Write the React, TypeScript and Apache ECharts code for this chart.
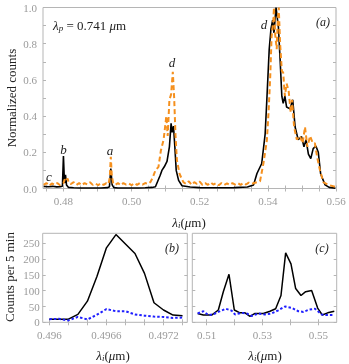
import React, { useEffect, useRef } from "react";
import * as echarts from "echarts";

// ---------- Panel (a): normalized spectra ----------
const lambdaBlack = [
  0.4742, 0.4755, 0.4768, 0.4780, 0.4790, 0.4797, 0.4800, 0.4803, 0.4806, 0.4809, 0.4815, 0.4830, 0.4850,
  0.4870, 0.4890, 0.4910, 0.4930, 0.4935, 0.4939, 0.4943, 0.4948, 0.4960, 0.4980, 0.5000, 0.5020, 0.5040,
  0.5060, 0.5070, 0.5084, 0.5089, 0.5096, 0.5104, 0.5111, 0.5116, 0.5119, 0.5123, 0.5127, 0.5131, 0.5138,
  0.5148, 0.5172, 0.5200, 0.5250, 0.5300, 0.5340, 0.5358, 0.5368, 0.5382, 0.5392, 0.5397, 0.5404, 0.5409,
  0.5414, 0.5418, 0.5424, 0.5431, 0.5436, 0.5441, 0.5445, 0.5450, 0.5455, 0.5465, 0.5473, 0.5480, 0.5489,
  0.5499, 0.5506, 0.5512, 0.5519, 0.5526, 0.5533, 0.5541, 0.5548, 0.5555, 0.5568, 0.5580, 0.5598,
];
const countsBlack = [
  0.012, 0.010, 0.012, 0.009, 0.010, 0.012, 0.180, 0.030, 0.075, 0.020, 0.006, 0.004, 0.003,
  0.003, 0.003, 0.003, 0.005, 0.010, 0.110, 0.020, 0.005, 0.003, 0.003, 0.003, 0.003, 0.004,
  0.006, 0.010, 0.073, 0.100, 0.120, 0.150, 0.230, 0.360, 0.310, 0.345, 0.230, 0.100, 0.045,
  0.015, 0.008, 0.005, 0.004, 0.005, 0.008, 0.020, 0.083, 0.138, 0.300, 0.490, 0.770, 0.880,
  0.930, 0.860, 1.000, 0.890, 0.710, 0.510, 0.470, 0.510, 0.450, 0.440, 0.490, 0.340, 0.270,
  0.286, 0.230, 0.270, 0.190, 0.165, 0.220, 0.235, 0.200, 0.080, 0.020, 0.006, 0.002,
];
const lambdaOrange = [
  0.4742, 0.4750, 0.4758, 0.4766, 0.4774, 0.4782, 0.4790, 0.4796, 0.4800, 0.4804, 0.4808, 0.4812, 0.4816,
  0.4822, 0.4830, 0.4838, 0.4846, 0.4854, 0.4862, 0.4870, 0.4878, 0.4886, 0.4894, 0.4902, 0.4910, 0.4918,
  0.4926, 0.4932, 0.4936, 0.4939, 0.4942, 0.4946, 0.4952, 0.4960, 0.4968, 0.4976, 0.4984, 0.4992, 0.5000,
  0.5008, 0.5016, 0.5024, 0.5032, 0.5040, 0.5048, 0.5055, 0.5062, 0.5070, 0.5079, 0.5086, 0.5094, 0.5102,
  0.5106, 0.5111, 0.5116, 0.5121, 0.5125, 0.5129, 0.5133, 0.5141, 0.5152, 0.5160, 0.5168, 0.5176, 0.5184,
  0.5192, 0.5200, 0.5208, 0.5216, 0.5224, 0.5232, 0.5240, 0.5248, 0.5256, 0.5264, 0.5272, 0.5280, 0.5288,
  0.5296, 0.5304, 0.5312, 0.5320, 0.5328, 0.5336, 0.5344, 0.5352, 0.5360, 0.5368, 0.5377, 0.5387, 0.5397,
  0.5402, 0.5407, 0.5411, 0.5416, 0.5418, 0.5421, 0.5426, 0.5429, 0.5432, 0.5436, 0.5441, 0.5445, 0.5450,
  0.5455, 0.5461, 0.5467, 0.5471, 0.5477, 0.5485, 0.5494, 0.5502, 0.5509, 0.5516, 0.5524, 0.5532, 0.5538,
  0.5545, 0.5553, 0.5563, 0.5577, 0.5597,
];
const countsOrange = [
  0.020, 0.030, 0.015, 0.028, 0.020, 0.030, 0.018, 0.025, 0.030, 0.050, 0.040, 0.055, 0.030,
  0.025, 0.035, 0.020, 0.030, 0.018, 0.030, 0.022, 0.034, 0.020, 0.028, 0.018, 0.030, 0.020,
  0.030, 0.025, 0.060, 0.175, 0.070, 0.030, 0.020, 0.030, 0.018, 0.030, 0.022, 0.028, 0.018,
  0.030, 0.020, 0.030, 0.022, 0.030, 0.025, 0.035, 0.060, 0.100, 0.120, 0.210, 0.270, 0.400,
  0.290, 0.490, 0.520, 0.645, 0.500, 0.290, 0.157, 0.080, 0.035, 0.025, 0.040, 0.020, 0.035,
  0.025, 0.038, 0.020, 0.030, 0.020, 0.034, 0.022, 0.030, 0.018, 0.030, 0.020, 0.028, 0.020,
  0.030, 0.022, 0.030, 0.020, 0.030, 0.022, 0.032, 0.025, 0.030, 0.035, 0.040, 0.139, 0.265,
  0.420, 0.620, 0.840, 0.930, 1.000, 0.860, 0.770, 0.930, 1.000, 0.800, 0.650, 0.640, 0.510,
  0.580, 0.540, 0.420, 0.490, 0.340, 0.270, 0.290, 0.250, 0.340, 0.230, 0.290, 0.250, 0.250,
  0.170, 0.100, 0.035, 0.020, 0.010,
];
const xLabelsA = [0.48, 0.5, 0.52, 0.54, 0.56];
const xTicksA = [0.475, 0.48, 0.485, 0.49, 0.495, 0.5, 0.505, 0.51, 0.515, 0.52, 0.525, 0.53, 0.535, 0.54, 0.545, 0.55, 0.555, 0.56];
const yLabelsA = [0, 0.2, 0.4, 0.6, 0.8, 1.0];
const yTicksA = [0, 0.1, 0.2, 0.3, 0.4, 0.5, 0.6, 0.7, 0.8, 0.9, 1.0];

// ---------- Panel (b) ----------
const lambdaB = [0.496, 0.4961, 0.4962, 0.4963, 0.4964, 0.4965, 0.4966, 0.4967, 0.4968, 0.4969, 0.497, 0.4971, 0.4972, 0.4973, 0.4974];
const countsBBlack = [10, 10, 10, 25, 67, 145, 236, 278, 248, 218, 155, 62, 39, 23, 21];
const countsBBlue = [10, 11, 6, 17, 9, 24, 42, 35, 35, 25, 21, 18, 17, 14, 15];
const xLabelsB = [0.496, 0.4966, 0.4972];
const xTicksB = [0.496, 0.4962, 0.4964, 0.4966, 0.4968, 0.497, 0.4972, 0.4974];

// ---------- Panel (c) ----------
const lambdaCBlack = [
  0.50676, 0.50879, 0.51178, 0.51417, 0.51596, 0.51799, 0.5199, 0.52193, 0.52373, 0.52552, 0.52731, 0.5303, 0.53269,
  0.53472, 0.53663, 0.5383, 0.54021, 0.54189, 0.5438, 0.54547, 0.54762, 0.54977, 0.55144, 0.55336, 0.55574,
];
const countsCBlack = [28, 23, 23, 39, 97, 152, 39, 30, 30, 19, 28, 28, 35, 43, 85, 220, 185, 107, 85, 97, 101, 45, 23, 30, 35];
const lambdaCBlue = [
  0.50676, 0.50879, 0.51058, 0.51237, 0.51417, 0.51679, 0.51894, 0.52014, 0.52253, 0.52432, 0.52611, 0.5285,
  0.53089, 0.53328, 0.53567, 0.53806, 0.54045, 0.54284, 0.54463, 0.54666, 0.54881, 0.5512, 0.55299, 0.55574,
];
const countsCBlue = [28, 35, 23, 25, 33, 43, 37, 25, 30, 28, 20, 28, 25, 28, 38, 50, 46, 35, 33, 40, 43, 25, 23, 23];
const xLabelsC = [0.51, 0.53, 0.55];
const xTicksC = [0.51, 0.52, 0.53, 0.54, 0.55];
const yLabelsBC = [0, 50, 100, 150, 200, 250];

const pairs = (xs: number[], ys: number[]) => xs.map((x, i) => [x, ys[i]]);

const FONT = '"Liberation Serif", "DejaVu Serif", serif';
const FRAME = "#b5b5b5";
const LABEL = "#9a9a9a";

type Fmt = (v: number) => string;
const fixed = (d: number): Fmt => (v: number) => v.toFixed(d);
const trimmed: Fmt = (v: number) => String(parseFloat(v.toFixed(5)));

export default function App() {
  const ref = useRef<HTMLDivElement>(null);
  useEffect(() => {
    if (!ref.current) return;
    const chart = echarts.init(ref.current, undefined, { renderer: "svg" });

    const xAx = (grid: number, min: number, max: number, ticks: number[], labels: number[] | null, pos: string, fmt: Fmt) => ({
      type: "value",
      gridIndex: grid,
      position: pos,
      min,
      max,
      axisLine: { show: false },
      splitLine: { show: false },
      axisTick: { show: true, inside: true, length: 3, customValues: ticks, lineStyle: { color: FRAME } },
      axisLabel: labels
        ? {
            show: true,
            customValues: labels,
            formatter: fmt,
            color: LABEL,
            fontFamily: FONT,
            fontSize: 11,
            margin: 7,
          }
        : { show: false },
    });
    const yAx = (grid: number, min: number, max: number, ticks: number[], labels: number[] | null, pos: string, fmt: Fmt, margin: number) => ({
      type: "value",
      gridIndex: grid,
      position: pos,
      min,
      max,
      axisLine: { show: false },
      splitLine: { show: false },
      axisTick: { show: true, inside: true, length: 3, customValues: ticks, lineStyle: { color: FRAME } },
      axisLabel: labels
        ? {
            show: true,
            customValues: labels,
            formatter: fmt,
            color: LABEL,
            fontFamily: FONT,
            fontSize: 11,
            margin,
          }
        : { show: false },
    });

    const rich = {
      i: { fontFamily: FONT, fontStyle: "italic", fontSize: 13, fill: "#222" },
      n: { fontFamily: FONT, fontSize: 13, fill: "#222" },
      s: { fontFamily: FONT, fontStyle: "italic", fontSize: 9, fill: "#222", padding: [6, 0, 0, 0] },
    };
    const txt = (text: string, x: number, y: number, size = 13, italic = false, rot = 0) => ({
      type: "text",
      x,
      y,
      rotation: rot,
      style: {
        text,
        fontFamily: FONT,
        fontSize: size,
        fontStyle: italic ? "italic" : "normal",
        fill: "#222",
        align: "center",
        verticalAlign: "middle",
      },
    });
    const richTxt = (text: string, x: number, y: number, align = "center") => ({
      type: "text",
      x,
      y,
      style: { text, rich, align, verticalAlign: "middle", fontFamily: FONT, fontSize: 13, fill: "#222" },
    });

    const option = {
      animation: false,
      grid: [
        { left: 43, top: 7.5, width: 293, height: 181, show: true, borderColor: FRAME, borderWidth: 1 },
        { left: 42.7, top: 233.3, width: 144.6, height: 89, show: true, borderColor: FRAME, borderWidth: 1 },
        { left: 192.3, top: 233.3, width: 144.4, height: 89, show: true, borderColor: FRAME, borderWidth: 1 },
      ],
      xAxis: [
        xAx(0, 0.474, 0.56, xTicksA, xLabelsA, "bottom", fixed(2)),
        xAx(0, 0.474, 0.56, xTicksA, null, "top", fixed(2)),
        xAx(1, 0.49593, 0.49745, xTicksB, xLabelsB, "bottom", trimmed),
        xAx(1, 0.49593, 0.49745, xTicksB, null, "top", trimmed),
        xAx(2, 0.50484, 0.5566, xTicksC, xLabelsC, "bottom", fixed(2)),
        xAx(2, 0.50484, 0.5566, xTicksC, null, "top", fixed(2)),
      ],
      yAxis: [
        yAx(0, 0, 1, yTicksA, yLabelsA, "left", fixed(1), 6),
        yAx(0, 0, 1, yTicksA, null, "right", fixed(1), 6),
        yAx(1, 0, 282, yLabelsBC, yLabelsBC, "left", fixed(0), 3),
        yAx(1, 0, 282, yLabelsBC, null, "right", fixed(0), 3),
        yAx(2, 0, 282, yLabelsBC, null, "left", fixed(0), 3),
        yAx(2, 0, 282, yLabelsBC, null, "right", fixed(0), 3),
      ],
      series: [
        {
          type: "line",
          xAxisIndex: 0,
          yAxisIndex: 0,
          data: pairs(lambdaBlack, countsBlack),
          showSymbol: false,
          lineStyle: { color: "#000", width: 1.6 },
        },
        {
          type: "line",
          xAxisIndex: 0,
          yAxisIndex: 0,
          data: pairs(lambdaOrange, countsOrange),
          showSymbol: false,
          lineStyle: { color: "#f5901e", width: 2, type: [5, 3] },
        },
        {
          type: "line",
          xAxisIndex: 2,
          yAxisIndex: 2,
          data: pairs(lambdaB, countsBBlack),
          showSymbol: false,
          lineStyle: { color: "#000", width: 1.5 },
        },
        {
          type: "line",
          xAxisIndex: 2,
          yAxisIndex: 2,
          data: pairs(lambdaB, countsBBlue),
          showSymbol: false,
          lineStyle: { color: "#1f1fff", width: 2, type: [2.5, 2] },
        },
        {
          type: "line",
          xAxisIndex: 4,
          yAxisIndex: 4,
          data: pairs(lambdaCBlack, countsCBlack),
          showSymbol: false,
          lineStyle: { color: "#000", width: 1.5 },
        },
        {
          type: "line",
          xAxisIndex: 4,
          yAxisIndex: 4,
          data: pairs(lambdaCBlue, countsCBlue),
          showSymbol: false,
          lineStyle: { color: "#1f1fff", width: 2, type: [2.5, 2] },
        },
      ],
      graphic: [
        txt("Normalized counts", 11, 98, 13, false, Math.PI / 2),
        txt("Counts per 5 min", 9, 277, 13, false, Math.PI / 2),
        richTxt("{i|λ}{s|p}{n| = 0.741 }{i|μ}{n|m}", 53, 25, "left"),
        txt("(a)", 323, 22, 12, true),
        txt("(b)", 172, 248, 12, true),
        txt("(c)", 322, 248, 12, true),
        txt("d", 172, 62, 13, true),
        txt("d", 264, 24, 13, true),
        txt("b", 63.5, 149, 13, true),
        txt("a", 110, 150, 13, true),
        txt("c", 49, 176, 13, true),
        richTxt("{i|λ}{s|i}{n|(}{i|μ}{n|m)}", 189, 222),
        richTxt("{i|λ}{s|i}{n|(}{i|μ}{n|m)}", 113, 355),
        richTxt("{i|λ}{s|i}{n|(}{i|μ}{n|m)}", 265, 355),
      ],
    };
    chart.setOption(option as any);
    return () => chart.dispose();
  }, []);
  return <div ref={ref} style={{ position: "fixed", left: 0, top: 0, width: 349, height: 364 }} />;
}
